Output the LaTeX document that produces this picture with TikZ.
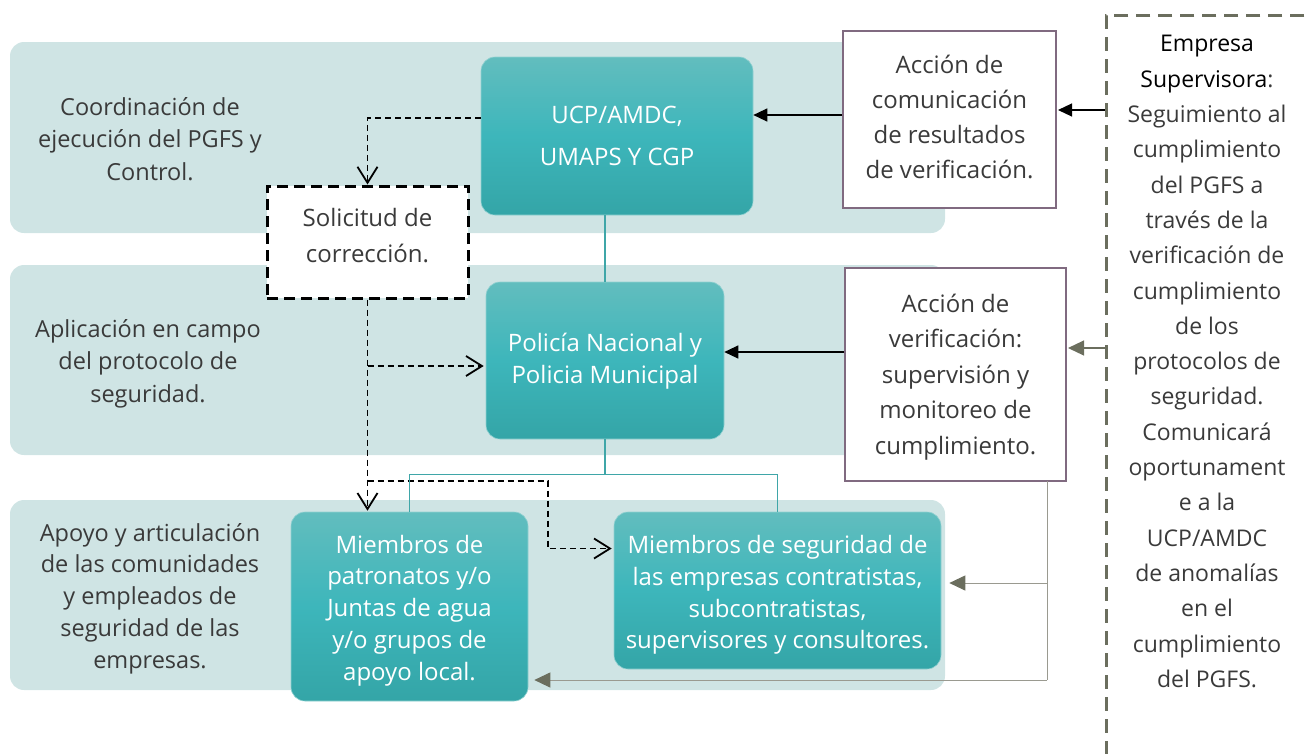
\documentclass[tikz,border=0pt]{standalone}
\usepackage{fontspec}
\setmainfont{Open Sans}
\usetikzlibrary{arrows.meta,calc}
\definecolor{band}{HTML}{CFE4E4}
\definecolor{tealtop}{HTML}{62BDBE}
\definecolor{tealmid}{HTML}{3DB6BB}
\definecolor{tealbot}{HTML}{34A5A7}
\definecolor{txt}{HTML}{3A3A3A}
\definecolor{purp}{HTML}{806A80}
\definecolor{olive}{HTML}{6B6E5E}
\definecolor{grayln}{HTML}{9A9A90}
\definecolor{tealln}{HTML}{3FA6A8}
\begin{document}
\begin{tikzpicture}[x=1pt,y=-1pt,
  bandfill/.style={fill=band,rounded corners=14pt},
  bandtext/.style={text=txt,align=center,font=\fontsize{23.5}{32.5}\selectfont},
  tealbox/.style={rounded corners=14pt,top color=tealtop,bottom color=tealbot,middle color=tealmid,draw=tealtop!70!white,line width=0.6pt,inner sep=0pt},
  tealtext/.style={text=white,align=center,inner sep=0pt,font=\fontsize{24}{31.8}\selectfont},
  actbox/.style={draw=purp,line width=2pt,fill=white,inner sep=0pt},
  acttext/.style={text=txt,align=center,inner sep=0pt,font=\fontsize{24}{35}\selectfont},
  solbox/.style={draw=black,line width=3pt,dash pattern=on 11pt off 6pt,fill=white,inner sep=0pt},
  empbox/.style={draw=olive,line width=2.5pt,dash pattern=on 14pt off 8pt,inner sep=0pt},
  dline/.style={draw=black,line width=1.8pt,dash pattern=on 6pt off 4pt,-{Straight Barb[length=16pt,width=20pt,line width=1.8pt]}},
  blarrow/.style={draw=black,line width=1.2pt,-{Triangle[length=14pt,width=13pt]}},
  olarrow/.style={draw=olive,line width=1.2pt,-{Triangle[length=16pt,width=15pt]}},
  grayline/.style={draw=grayln,line width=1pt},
  grayarrow/.style={draw=grayln,line width=1pt,-{Triangle[length=16pt,width=15pt,color=olive,fill=olive]}},
  tealline/.style={draw=tealln,line width=1.4pt}
]
\useasboundingbox (0,0) rectangle (1305,753);
% bands
\fill[bandfill] (10,42) rectangle (945,233);
\fill[bandfill] (10,265) rectangle (945,455);
\fill[bandfill] (10,500) rectangle (945,690);
\node[bandtext] (t1) at (150,139) {Coordinación de\\ejecución del PGFS y\\Control.};
\node[bandtext] (t2) at (148,363.5) {Aplicación en campo\\del protocolo de\\seguridad.};
\node[bandtext,font=\fontsize{23.5}{31.8}\selectfont] (t3) at (150,598.5) {Apoyo y articulación\\de las comunidades\\y empleados de\\seguridad de las\\empresas.};
% boxes
\node[tealbox,minimum width=272pt,minimum height=158pt] (ucp) at (617,136) {};
\node[tealtext] (ucpt) at ($(ucp.center)+(0,0)$) {UCP/AMDC,\\[11pt]UMAPS Y CGP};
\node[tealbox,minimum width=238pt,minimum height=157pt] (pol) at (605,360.5) {};
\node[tealtext] (polt) at ($(pol.center)+(0,1)$) {Policía Nacional y\\Policia Municipal};
\node[tealbox,minimum width=237pt,minimum height=189pt] (pat) at (409.5,606.5) {};
\node[tealtext] (patt) at ($(pat.center)+(0,4)$) {Miembros de\\patronatos y/o\\Juntas de agua\\y/o grupos de\\apoyo local.};
\node[tealbox,minimum width=327pt,minimum height=157pt] (seg) at (777.5,590.5) {};
\node[tealtext] (segt) at ($(seg.center)+(0,4.5)$) {Miembros de seguridad de\\las empresas contratistas,\\subcontratistas,\\supervisores y consultores.};
\node[solbox,minimum width=201pt,minimum height=112pt] (sol) at (367.5,242) {};
\node[acttext,font=\fontsize{24}{36}\selectfont] (solt) at ($(sol.center)+(0,-6)$) {Solicitud de\\corrección.};
\node[actbox,minimum width=213pt,minimum height=177pt] (com) at (949.5,119.5) {};
\node[acttext] (comt) at ($(com.center)+(0,-3)$) {Acción de\\comunicación\\de resultados\\de verificación.};
\node[actbox,minimum width=221pt,minimum height=213pt] (ver) at (955.5,374.5) {};
\node[acttext,font=\fontsize{24}{35.5}\selectfont] (vert) at ($(ver.center)+(0,2.5)$) {Acción de\\verificación:\\supervisión y\\monitoreo de\\cumplimiento.};
% empresa supervisora
\node[empbox,anchor=north west,minimum width=260pt,minimum height=800pt] (emp) at (1105,14) {};
\node[anchor=north,align=center,text=txt,font=\fontsize{23}{35.3}\selectfont] (empt) at (1207,32) {\textcolor{black}{Empresa}\\\textcolor{black}{Supervisora}:\\Seguimiento al\\cumplimiento\\del PGFS a\\través de la\\verificación de\\cumplimiento\\de los\\protocolos de\\seguridad.\\Comunicará\\oportunament\\e a la\\UCP/AMDC\\de anomalías\\en el\\cumplimiento\\del PGFS.};
% coordinates
\coordinate (e1) at (emp.west |- 0,110);
\coordinate (e2) at (emp.west |- 0,348);
\coordinate (c1) at ($(com.east)+(1,-9.5)$);
\coordinate (v1) at ($(ver.east)+(1,-26.5)$);
\coordinate (cw) at ($(com.west)+(0,-4.5)$);
\coordinate (vw) at ($(ver.west)+(0,-22.5)$);
\coordinate (uw) at ($(ucp.west)+(0,-18)$);
\coordinate (b1) at (sol.south |- 0,366);
\coordinate (b2) at (548,481);
\coordinate (pj) at ($(pol.south)+(0,35)$);
\coordinate (g0) at (1047,481);
\coordinate (g1) at (1047,583);
\coordinate (g2) at (1047,680);
% arrows
\draw[blarrow] (e1) -- (c1);
\draw[olarrow] (e2) -- (v1);
\draw[blarrow] (cw) -- (cw -| ucp.east);
\draw[blarrow] (vw) -- (vw -| pol.east);
\draw[dline] (uw) -| (sol.north);
\draw[dline] (sol.south) -- ($(sol.south |- pat.north)+(0,-1)$);
\draw[dline] (b1) -- ($(b1 -| pol.west)+(-2,0)$);
\draw[dline] (sol.south |- b2) -- (b2) |- ($(seg.west)+(-2,-42)$);
\draw[tealline] (pol.north |- ucp.south) -- (pol.north);
\draw[tealline] (pol.south) -- (pj);
\draw[tealline] (pat.north) |- (pj) -| (seg.north);
\draw[grayline] (g0) -- (g2);
\draw[grayarrow] (g1) -- ($(seg.east |- g1)+(8,0)$);
\draw[grayarrow] (g2) -- ($(pat.east |- g2)+(6,0)$);
\end{tikzpicture}
\end{document}
